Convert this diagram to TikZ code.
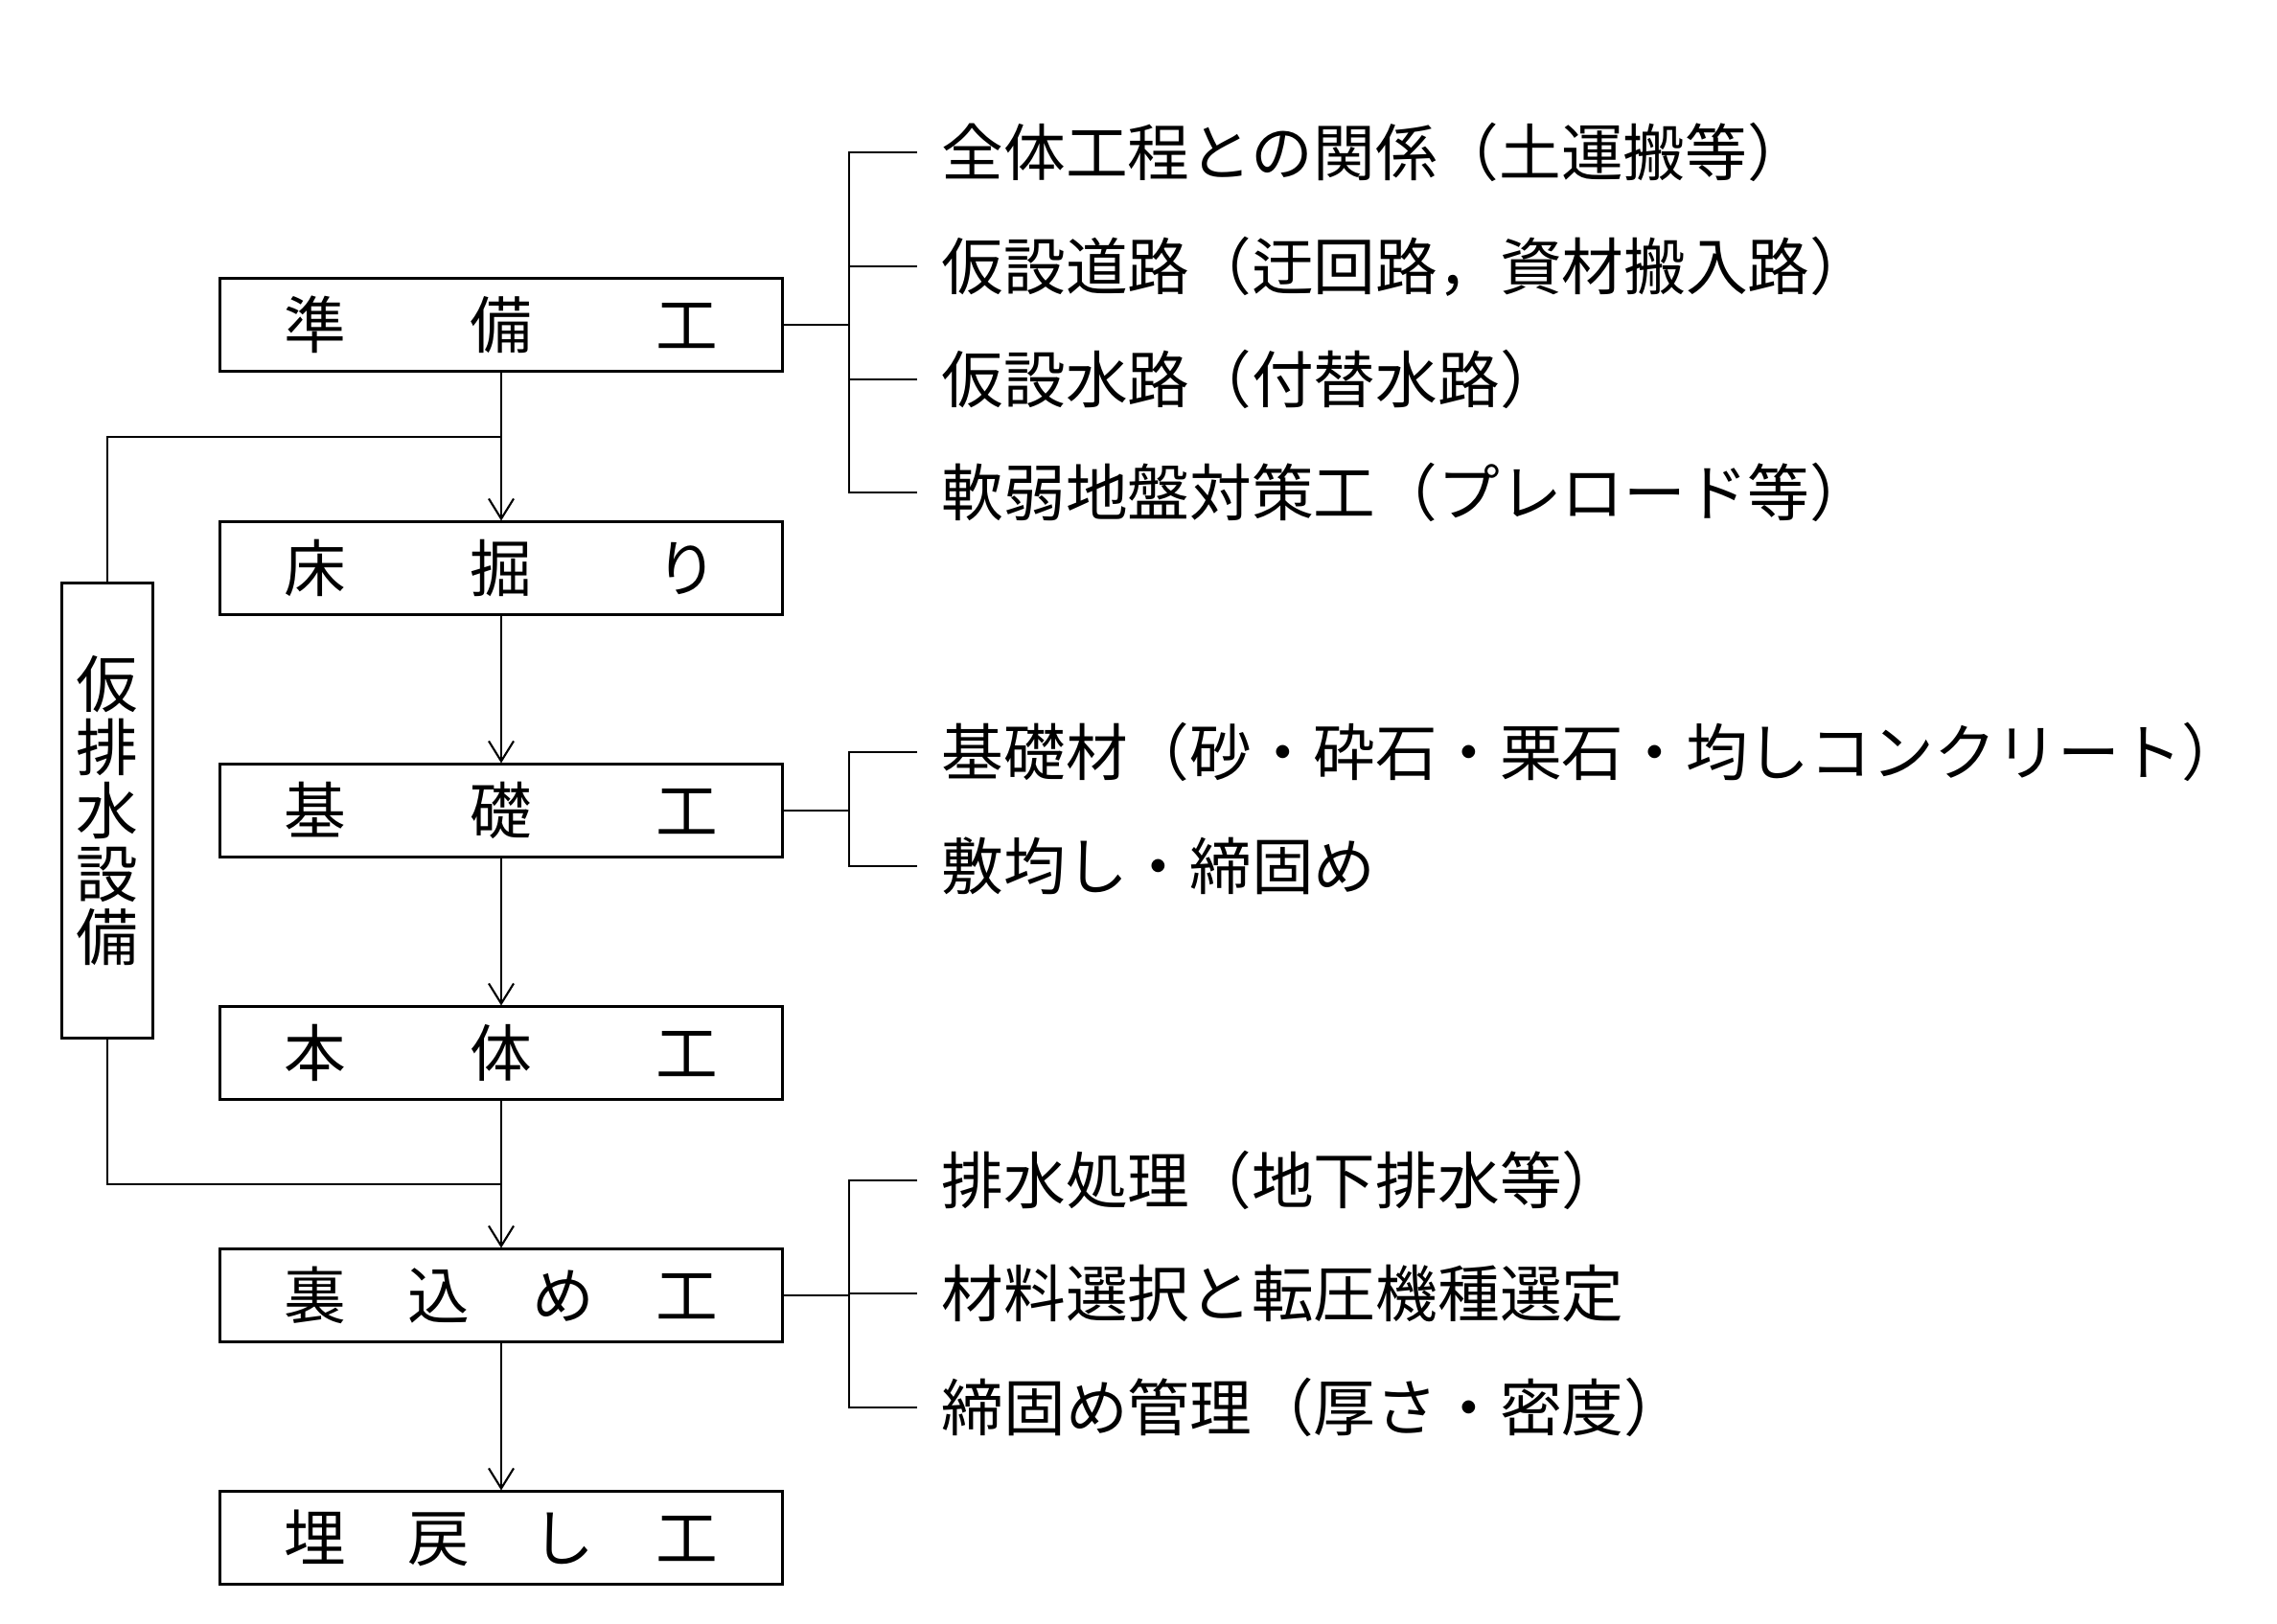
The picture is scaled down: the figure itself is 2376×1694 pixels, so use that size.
\documentclass[tikz,border=0pt]{standalone}
\usepackage{fontspec}
\setmainfont{Noto Sans CJK JP}
\usetikzlibrary{arrows.meta}
\tikzset{
  proc/.style={draw, line width=0.85pt, minimum width=5.86cm, minimum height=0.96cm, inner sep=0pt, font=\fontsize{18.4pt}{22pt}\selectfont},
  drainbox/.style={draw, line width=0.85pt, minimum width=0.94cm, minimum height=4.74cm, inner sep=0pt, align=center, font=\fontsize{18.4pt}{0.66cm}\selectfont},
  item/.style={anchor=west, inner sep=0pt, font=\fontsize{18.4pt}{22pt}\selectfont},
  flow/.style={line width=0.6pt, -{Straight Barb[length=0.21cm,width=0.26cm,line width=0.6pt]}},
  link/.style={line width=0.6pt},
  brack/.style={line width=0.8pt},
}
\newcommand{\spreadtxt}[1]{\makebox[4.53cm][s]{#1}}
\begin{document}
\begin{tikzpicture}[x=0.01cm, y=-0.01cm]
\useasboundingbox (0,0) rectangle (2376,1694);
% main boxes
\node[proc] (b1) at (523,339)  {\spreadtxt{準\hfill 備\hfill 工}};
\node[proc] (b2) at (523,593)  {\spreadtxt{床\hfill 掘\hfill り}};
\node[proc] (b3) at (523,846)  {\spreadtxt{基\hfill 礎\hfill 工}};
\node[proc] (b4) at (523,1099) {\spreadtxt{本\hfill 体\hfill 工}};
\node[proc] (b5) at (523,1352) {\spreadtxt{裏\hfill 込\hfill め\hfill 工}};
\node[proc] (b6) at (523,1605) {\spreadtxt{埋\hfill 戻\hfill し\hfill 工}};
% drain box
\node[drainbox] (dr) at (112,846) {仮\\排\\水\\設\\備};
% flow
\draw[flow] (b1) -- (b2);
\draw[flow] (b2) -- (b3);
\draw[flow] (b3) -- (b4);
\draw[flow] (b4) -- (b5);
\draw[flow] (b5) -- (b6);
\coordinate (j1) at (523,456);
\coordinate (j2) at (523,1236);
\draw[link] (j1) -| (dr.north);
\draw[link] (dr.south) |- (j2);
% bracket 1
\node[item] (t11) at (982,159) {全体工程との関係（土運搬等）};
\node[item] (t12) at (982,278) {仮設道路（迂回路，資材搬入路）};
\node[item] (t13) at (982,396) {仮設水路（付替水路）};
\node[item] (t14) at (982,514) {軟弱地盤対策工（プレロード等）};
\coordinate (k1) at (886,339);
\draw[brack] (b1.east) -- (k1);
\draw[brack] ([xshift=-0.25cm]t11.west) -- (t11.west -| k1) -- (t14.west -| k1) -- ([xshift=-0.25cm]t14.west);
\draw[brack] (t12.west -| k1) -- ([xshift=-0.25cm]t12.west);
\draw[brack] (t13.west -| k1) -- ([xshift=-0.25cm]t13.west);
% bracket 2
\node[item] (t21) at (982,785) {基礎材（砂・砕石・栗石・均しコンクリート）};
\node[item] (t22) at (982,904) {敷均し・締固め};
\coordinate (k2) at (886,846);
\draw[brack] (b3.east) -- (k2);
\draw[brack] ([xshift=-0.25cm]t21.west) -- (t21.west -| k2) -- (t22.west -| k2) -- ([xshift=-0.25cm]t22.west);
% bracket 3
\node[item] (t31) at (982,1232) {排水処理（地下排水等）};
\node[item] (t32) at (982,1350) {材料選択と転圧機種選定};
\node[item] (t33) at (982,1469) {締固め管理（厚さ・密度）};
\coordinate (k3) at (886,1352);
\draw[brack] (b5.east) -- (k3);
\draw[brack] ([xshift=-0.25cm]t31.west) -- (t31.west -| k3) -- (t33.west -| k3) -- ([xshift=-0.25cm]t33.west);
\draw[brack] (t32.west -| k3) -- ([xshift=-0.25cm]t32.west);
\end{tikzpicture}
\end{document}
